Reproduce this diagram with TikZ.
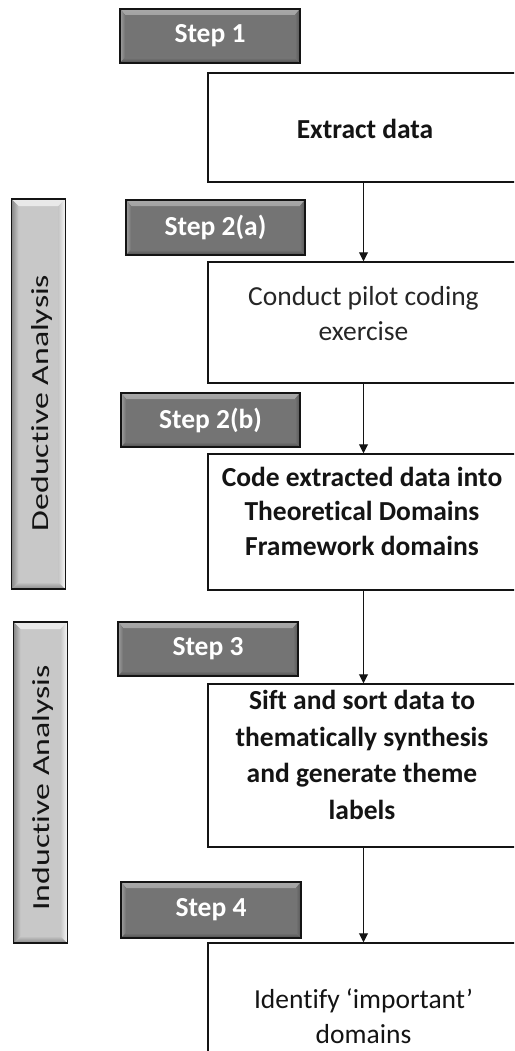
\documentclass[tikz,border=0pt]{standalone}
\usepackage{fontspec}
\setmainfont{Carlito}[Ligatures=NoCommon]
\usepackage{graphicx}
\usetikzlibrary{arrows.meta}

\definecolor{stepfill}{RGB}{116,116,116}
\definecolor{stephi}{RGB}{168,168,168}
\definecolor{steplo}{RGB}{78,78,78}
\definecolor{barfill}{RGB}{200,200,200}
\definecolor{barhi}{RGB}{248,248,248}
\definecolor{barlo}{RGB}{135,135,135}
\definecolor{ink}{RGB}{20,20,20}

\begin{document}
\begin{tikzpicture}[x=1pt,y=-1pt,
  stepbox/.style={draw=ink, line width=1.6pt, fill=stepfill,
    minimum width=180pt, minimum height=54pt, inner sep=0pt,
    text=white, font=\fontsize{27.5}{30}\selectfont\bfseries,
    path picture={
      \fill[top color=stephi, bottom color=stepfill]
        (path picture bounding box.north west) -- (path picture bounding box.north east)
        -- ([shift={(-5pt,-6pt)}]path picture bounding box.north east)
        -- ([shift={(5pt,-6pt)}]path picture bounding box.north west) -- cycle;
      \fill[left color=stephi!80!stepfill, right color=stepfill]
        (path picture bounding box.north west) -- ([shift={(5pt,-6pt)}]path picture bounding box.north west)
        -- ([shift={(5pt,5pt)}]path picture bounding box.south west)
        -- (path picture bounding box.south west) -- cycle;
      \fill[top color=stepfill, bottom color=steplo]
        (path picture bounding box.south west) -- (path picture bounding box.south east)
        -- ([shift={(-5pt,5pt)}]path picture bounding box.south east)
        -- ([shift={(5pt,5pt)}]path picture bounding box.south west) -- cycle;
      \fill[left color=stepfill, right color=steplo!80!stepfill]
        (path picture bounding box.north east) -- ([shift={(-5pt,-6pt)}]path picture bounding box.north east)
        -- ([shift={(-5pt,5pt)}]path picture bounding box.south east)
        -- (path picture bounding box.south east) -- cycle;
    }},
  barbox/.style={draw=ink, line width=1.6pt, fill=barfill,
    minimum width=54pt, inner sep=0pt,
    path picture={
      \fill[top color=barhi!70!barfill, bottom color=barfill]
        (path picture bounding box.north west) -- (path picture bounding box.north east)
        -- ([shift={(-7pt,-7pt)}]path picture bounding box.north east)
        -- ([shift={(7pt,-7pt)}]path picture bounding box.north west) -- cycle;
      \fill[left color=barlo, right color=barfill]
        (path picture bounding box.north west) -- ([shift={(7pt,-7pt)}]path picture bounding box.north west)
        -- ([shift={(7pt,7pt)}]path picture bounding box.south west)
        -- (path picture bounding box.south west) -- cycle;
      \fill[top color=barfill, bottom color=barlo]
        (path picture bounding box.south west) -- (path picture bounding box.south east)
        -- ([shift={(-7pt,7pt)}]path picture bounding box.south east)
        -- ([shift={(7pt,7pt)}]path picture bounding box.south west) -- cycle;
      \fill[left color=barfill, right color=barhi]
        (path picture bounding box.north east) -- ([shift={(-7pt,-7pt)}]path picture bounding box.north east)
        -- ([shift={(-7pt,7pt)}]path picture bounding box.south east)
        -- (path picture bounding box.south east) -- cycle;
    }},
  bartext/.style={rotate=90, inner sep=0pt, text=ink,
    font=\fontsize{24.5}{24.5}\selectfont},
  procbox/.style={draw=ink, line width=1.5pt, fill=white,
    minimum width=311pt, inner sep=0pt},
  proctext/.style={align=center, text=ink, inner sep=0pt,
    font=\fontsize{27.5}{35}\selectfont},
  arr/.style={draw=ink, line width=1pt, -{Triangle[length=9pt,width=9pt]}}
]
\useasboundingbox (0,0) rectangle (514,1051);
\clip (0,0) rectangle (514,1051);
\fill[white] (0,0) rectangle (514,1051);

% phase bars on the left
\node[barbox, minimum height=390pt] (ded) at (38.5,394) {};
\node[bartext] (dedt) at (41.5,403) {\scalebox{1.38}[1]{Deductive Analysis}};
\node[barbox, minimum height=321pt] (ind) at (40.5,782.5) {};
\node[bartext] (indt) at (43,788) {\scalebox{1.38}[1]{Inductive Analysis}};

% step labels
\node[stepbox] (s1)  at (210,36)     {Step 1};
\node[stepbox, minimum width=179pt, minimum height=55pt] (s2a) at (215.5,227.5) {Step 2(a)};
\node[stepbox, minimum width=179pt] (s2b) at (210.5,420) {Step 2(b)};
\node[stepbox] (s3)  at (208,649)    {Step 3};
\node[stepbox, minimum height=56pt] (s4) at (211,910) {Step 4};

% process boxes
\node[procbox, minimum height=109pt] (b1) at (363.5,127.5) {};
\node[procbox, minimum height=121pt] (b2) at (363.5,322.5) {};
\node[procbox, minimum height=136pt] (b3) at (363.5,522)   {};
\node[procbox, minimum height=163pt] (b4) at (363.5,765.5) {};
\node[procbox, minimum height=150pt] (b5) at (363.5,1018)  {};

\node[proctext, font=\fontsize{27.5}{35}\selectfont\bfseries] (t1) at (365,129) {Extract data};
\node[proctext, text=black!85] (t2) at (363.5,314) {Conduct pilot coding\\exercise};
\node[proctext, font=\fontsize{27.5}{34.5}\selectfont\bfseries] (t3) at (362,511) {Code extracted data into\\Theoretical Domains\\Framework domains};
\node[proctext, font=\fontsize{27.5}{36.5}\selectfont\bfseries] (t4) at (362,755) {Sift and sort data to\\thematically synthesis\\and generate theme\\labels};
\node[proctext] (t5) at (363.5,1016) {Identify ‘important’\\domains};

% flow arrows
\draw[arr] (b1.south) -- (b2.north);
\draw[arr] (b2.south) -- (b3.north);
\draw[arr] (b3.south) -- (b4.north);
\draw[arr] (b4.south) -- (b5.north);
\end{tikzpicture}
\end{document}
